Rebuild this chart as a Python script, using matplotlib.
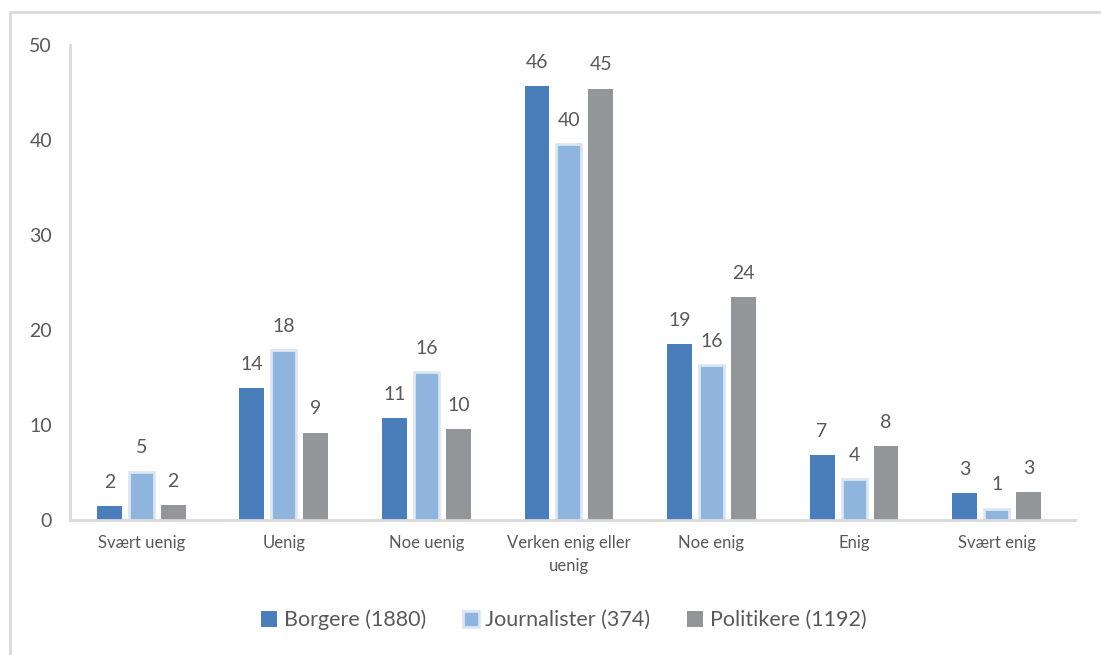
import matplotlib
matplotlib.use("Agg")
import matplotlib.pyplot as plt
import numpy as np
from matplotlib.patches import Rectangle

categories = ["Svært uenig", "Uenig", "Noe uenig", "Verken enig eller\nuenig",
              "Noe enig", "Enig", "Svært enig"]
borgere = [1.5, 13.9, 10.7, 45.7, 18.5, 6.8, 2.8]
journalister = [5.1, 17.9, 15.6, 39.6, 16.3, 4.3, 1.2]
politikere = [1.6, 9.2, 9.6, 45.4, 23.5, 7.8, 2.9]
labels_b = [2, 14, 11, 46, 19, 7, 3]
labels_j = [5, 18, 16, 40, 16, 4, 1]
labels_p = [2, 9, 10, 45, 24, 8, 3]
series = ["Borgere (1880)", "Journalister (374)", "Politikere (1192)"]

plt.rcParams['font.family'] = ['Lato', 'DejaVu Sans']
txt = '#595959'

fig = plt.figure(figsize=(11.01, 6.55), dpi=100)
ax = fig.add_axes([70/1101, 1-520/655, (1075-70)/1101, (520-45)/655])

# outer chart border
fig.patches.append(Rectangle((10/1101, -0.05), 1.2, 1-12/655+0.05, transform=fig.transFigure,
                             fill=False, edgecolor='#d9d9d9', linewidth=2))

x = np.arange(len(categories))
w = 0.175
step = 0.224
b1 = ax.bar(x - step, borgere, w, color='#4a7ebb', label=series[0])
b2 = ax.bar(x, journalister, w, color='#8fb4de', edgecolor='#dce6f2', linewidth=2, label=series[1])
b3 = ax.bar(x + step, politikere, w, color='#939598', label=series[2])

for bars, labs in [(b1, labels_b), (b2, labels_j), (b3, labels_p)]:
    for r, l in zip(bars, labs):
        ax.text(r.get_x() + r.get_width()/2, r.get_height() + 1.6, str(l),
                ha='center', va='bottom', fontsize=14, color=txt)

ax.set_xlim(-0.5, len(categories) - 0.45)
ax.set_ylim(0, 50)
ax.set_yticks([0, 10, 20, 30, 40, 50])
ax.set_xticks(x)
ax.set_xticklabels(categories, fontsize=12, color=txt, linespacing=1.55)
ax.tick_params(axis='y', labelsize=14, labelcolor=txt, length=0, pad=13)
ax.tick_params(axis='x', length=0, pad=11)
for s in ['top', 'right']:
    ax.spines[s].set_visible(False)
for s in ['left', 'bottom']:
    ax.spines[s].set_color('#d9d9d9')
    ax.spines[s].set_linewidth(2)

leg = fig.legend(handles=[b1, b2, b3], loc='center', bbox_to_anchor=(0.512, 1-620/655), ncol=3,
                 frameon=False, fontsize=15.5, handlelength=0.75, handleheight=0.75,
                 handletextpad=0.3, columnspacing=1.7)
for t in leg.get_texts():
    t.set_color(txt)

fig.savefig("out.png", dpi=100)
